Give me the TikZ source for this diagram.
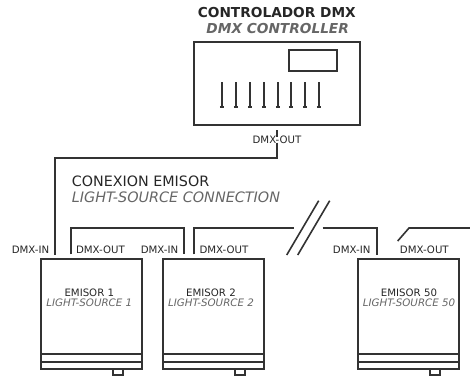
\documentclass[tikz,border=0pt]{standalone}
\usepackage{fontspec}
\setmainfont{DejaVu Sans}
\definecolor{wirecol}{HTML}{333333}
\definecolor{greytext}{HTML}{666666}
\tikzset{
    wire/.style={draw=wirecol, line width=1.6pt},
    casing/.style={draw=wirecol, line width=1.6pt},
    label/.style={inner sep=0pt, text=black!85, font=\fontsize{10.2}{12}\selectfont},
    sublabel/.style={inner sep=0pt, text=greytext, font=\fontsize{10.3}{12}\selectfont\itshape},
}
\begin{document}
\begin{tikzpicture}[x=1pt, y=-1pt]
    \useasboundingbox (0, 0) rectangle (470, 376);

    % Controller
    \node[inner sep=0pt, text=black!85, font=\fontsize{13.7}{16}\selectfont\bfseries] (title) at (276.8, 12.7) {CONTROLADOR DMX};
    \node[inner sep=0pt, text=greytext, font=\fontsize{13.7}{16}\selectfont\bfseries\itshape] (subtitle) at (277.7, 29) {DMX CONTROLLER};
    \draw[casing] (194, 42) rectangle (360, 125);
    \draw[casing] (289, 50) rectangle (337, 71);
    \foreach \x in {222, 236, 250, 264, 278, 291, 305, 319} {
        \draw[wire] (\x, 82) -- (\x, 107);
        \draw[wire] (\x - 2.2, 107) -- (\x + 2.2, 107);
    }

    % Section heading
    \node[inner sep=0pt, anchor=west, text=black!85, font=\fontsize{14.3}{17}\selectfont] (heading) at (71.7, 181) {CONEXION EMISOR};
    \node[inner sep=0pt, anchor=west, text=greytext, font=\fontsize{14.4}{17}\selectfont\itshape] (subheading) at (71.7, 197) {LIGHT-SOURCE CONNECTION};

    % Light sources
    \foreach \name/\x/\labelx/\num in {emisor1/41/89.3/1, emisor2/163/211/2, emisor50/358/409/50} {
        \draw[casing] (\x, 259) rectangle (\x + 101, 369);
        \draw[casing] (\x, 354) -- (\x + 101, 354);
        \draw[casing] (\x, 362) -- (\x + 101, 362);
        \draw[wire] (\x + 72, 369) rectangle (\x + 82, 375);
        \node[label] (\name-es) at (\labelx, 292.3) {EMISOR \num};
        \node[sublabel] (\name-en) at (\labelx, 303) {LIGHT-SOURCE \num};
    }

    % Port labels
    \node[label] (ctrl-out) at (277, 140) {DMX-OUT};
    \node[label] (in1) at (30.5, 249.7) {DMX-IN};
    \node[label] (out1) at (100.5, 249.7) {DMX-OUT};
    \node[label] (in2) at (159.5, 249.7) {DMX-IN};
    \node[label] (out2) at (224, 249.7) {DMX-OUT};
    \node[label] (in50) at (351.7, 249.7) {DMX-IN};
    \node[label] (out50) at (424.3, 249.7) {DMX-OUT};

    % Wire ends
    \coordinate (ctrl-a) at (277, 130);
    \coordinate (ctrl-a2) at (277, 137.3);
    \coordinate (ctrl-a3) at (277, 142.7);
    \coordinate (ctrl-b) at (277, 158);
    \coordinate (ctrl-c) at (55, 158);
    \coordinate (ctrl-d) at (55, 255);
    \coordinate (e1-a) at (71, 254.3);
    \coordinate (e1-b) at (71, 228);
    \coordinate (e1-c) at (184, 228);
    \coordinate (e1-d) at (184, 254.3);
    \coordinate (e2-a) at (194, 254.3);
    \coordinate (e2-b) at (194, 228);
    \coordinate (e2-c) at (294.3, 228);
    \coordinate (e3-a) at (322.7, 228);
    \coordinate (e3-b) at (377, 228);
    \coordinate (e3-c) at (377, 255);
    \coordinate (e4-a) at (397.7, 241);
    \coordinate (e4-b) at (409, 228);
    \coordinate (e4-c) at (470, 228);
    \coordinate (cut1-a) at (286.7, 255);
    \coordinate (cut1-b) at (318.7, 200.7);
    \coordinate (cut2-a) at (297.7, 255);
    \coordinate (cut2-b) at (329.7, 200.7);

    % Wires
    \draw[wire] (ctrl-a) -- (ctrl-a2);
    \draw[wire] (ctrl-a3) -- (ctrl-b) -- (ctrl-c) -- (ctrl-d);
    \draw[wire] (e1-a) -- (e1-b) -- (e1-c) -- (e1-d);
    \draw[wire] (e2-a) -- (e2-b) -- (e2-c);
    \draw[wire] (e3-a) -- (e3-b) -- (e3-c);
    \draw[wire] (e4-a) -- (e4-b) -- (e4-c);
    \draw[wire] (cut1-a) -- (cut1-b);
    \draw[wire] (cut2-a) -- (cut2-b);
\end{tikzpicture}
\end{document}
